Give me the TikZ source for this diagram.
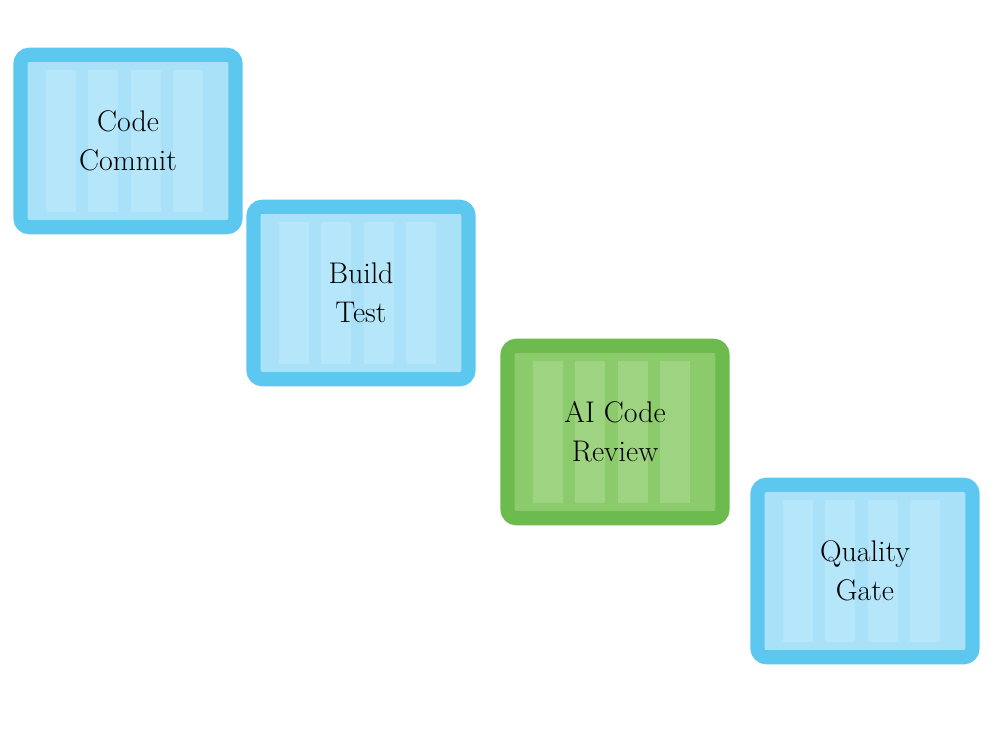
\documentclass[tikz,border=0pt]{standalone}
\usetikzlibrary{positioning}
\definecolor{skyedge}{HTML}{5CC8F0}
\definecolor{skyfill}{HTML}{A9E2F8}
\definecolor{leafedge}{HTML}{6DBB4F}
\definecolor{leaffill}{HTML}{8CCB6B}
\tikzset{
 stage/.style={draw=skyedge,fill=skyfill,line width=8pt,rounded corners=5pt,
   minimum width=4.3cm,minimum height=3.45cm,align=center,
   font=\fontsize{17}{22}\selectfont,
   path picture={\foreach \k in {0,...,3}
     \fill[white,opacity=.16,sharp corners] ([xshift=\k*0.85cm+0.5cm,yshift=0.3cm]path picture bounding box.south west)
        rectangle ++(0.6cm,2.85cm);}},
 aistage/.style={stage,draw=leafedge,fill=leaffill}
}
\begin{document}
\begin{tikzpicture}
 \useasboundingbox (0,0) rectangle (20,-14.92);
 \node[stage] (commit) at (2.56,-2.82) {Code\\Commit};
 \node[stage] (build) at (7.22,-5.86) {Build\\Test};
 \node[aistage] (review) at (12.3,-8.64) {AI Code\\Review};
 \node[stage] (gate) at (17.3,-11.42) {Quality\\Gate};
\end{tikzpicture}
\end{document}
